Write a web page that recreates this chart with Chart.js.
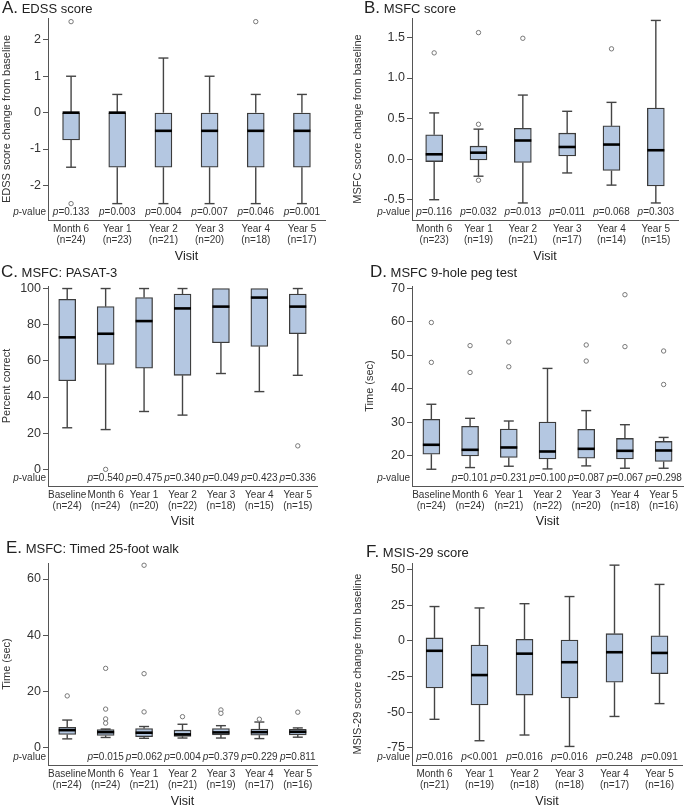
<!DOCTYPE html>
<html>
<head>
<meta charset="utf-8">
<script src="https://cdn.jsdelivr.net/npm/chart.js@4.4.0/dist/chart.umd.min.js"></script>
<style>
  body { margin: 0; background: #fff; }
  #wrap { position: relative; width: 691px; height: 807px; overflow: hidden;
          font-family: "Liberation Sans", Arial, sans-serif; color: #222; }
  .panel { position: absolute; }
  .ttl { position: absolute; font-size: 13px; white-space: nowrap; line-height: 18px; }
  .ttl b { font-weight: normal; font-size: 17px; }
</style>
</head>
<body>
<div id="wrap">
  <div class="panel" style="left:0;top:0;width:345px;height:268px"><canvas id="chartA"></canvas></div>
  <div class="panel" style="left:345px;top:0;width:346px;height:268px"><canvas id="chartB"></canvas></div>
  <div class="panel" style="left:0;top:268px;width:345px;height:272px"><canvas id="chartC"></canvas></div>
  <div class="panel" style="left:345px;top:268px;width:346px;height:272px"><canvas id="chartD"></canvas></div>
  <div class="panel" style="left:0;top:540px;width:345px;height:267px"><canvas id="chartE"></canvas></div>
  <div class="panel" style="left:345px;top:540px;width:346px;height:267px"><canvas id="chartF"></canvas></div>

  <div class="ttl" style="left:2px;top:-1px"><b>A.</b> EDSS score</div>
  <div class="ttl" style="left:364px;top:-1px"><b>B.</b> MSFC score</div>
  <div class="ttl" style="left:1px;top:263px"><b>C.</b> MSFC: PASAT-3</div>
  <div class="ttl" style="left:370px;top:263px"><b>D.</b> MSFC 9-hole peg test</div>
  <div class="ttl" style="left:6px;top:539px"><b>E.</b> MSFC: Timed 25-foot walk</div>
  <div class="ttl" style="left:366px;top:543px"><b>F.</b> MSIS-29 score</div>
</div>

<script>
// A. EDSS score (change from baseline)
const edssVisits = ['Month 6', 'Year 1', 'Year 2', 'Year 3', 'Year 4', 'Year 5'];
const edssN = [24, 23, 21, 20, 18, 17];
const edssP = ['p=0.133', 'p=0.003', 'p=0.004', 'p=0.007', 'p=0.046', 'p=0.001'];
const edssLow = [-1.5, -2.5, -2.5, -2.5, -2.5, -2.5];
const edssQ1 = [-0.75, -1.5, -1.5, -1.5, -1.5, -1.5];
const edssMed = [0, 0, -0.5, -0.5, -0.5, -0.5];
const edssQ3 = [0, 0, 0, 0, 0, 0];
const edssHigh = [1, 0.5, 1.5, 1, 0.5, 0.5];
const edssOut = [[2.5, -2.5], [], [], [], [2.5], []];
const edssTicks = [-2, -1, 0, 1, 2];

// B. MSFC score (change from baseline)
const msfcVisits = ['Month 6', 'Year 1', 'Year 2', 'Year 3', 'Year 4', 'Year 5'];
const msfcN = [23, 19, 21, 17, 14, 15];
const msfcP = ['p=0.116', 'p=0.032', 'p=0.013', 'p=0.011', 'p=0.068', 'p=0.303'];
const msfcLow = [-0.50, -0.21, -0.54, -0.17, -0.32, -0.54];
const msfcQ1 = [-0.03, -0.01, -0.04, 0.04, -0.14, -0.33];
const msfcMed = [0.06, 0.08, 0.23, 0.15, 0.18, 0.11];
const msfcQ3 = [0.30, 0.16, 0.38, 0.32, 0.41, 0.63];
const msfcHigh = [0.57, 0.37, 0.79, 0.59, 0.70, 1.71];
const msfcOut = [[1.31], [1.56, 0.43, -0.26], [1.49], [], [1.36], []];
const msfcTicks = [-0.5, 0, 0.5, 1, 1.5];

// C. PASAT-3 (percent correct)
const pasatVisits = ['Baseline', 'Month 6', 'Year 1', 'Year 2', 'Year 3', 'Year 4', 'Year 5'];
const pasatN = [24, 24, 20, 22, 18, 15, 15];
const pasatP = ['', 'p=0.540', 'p=0.475', 'p=0.340', 'p=0.049', 'p=0.423', 'p=0.336'];
const pasatLow = [23, 22, 32, 30, 53, 43, 52];
const pasatQ1 = [49, 58, 56, 52, 70, 68, 75];
const pasatMed = [73, 75, 82, 89, 90, 95, 90];
const pasatQ3 = [94, 90, 95, 97, 100, 100, 97];
const pasatHigh = [100, 100, 100, 100, 100, 100, 100];
const pasatOut = [[], [0], [], [], [], [], [13]];
const pasatTicks = [0, 20, 40, 60, 80, 100];

// D. 9-hole peg test (sec)
const pegVisits = ['Baseline', 'Month 6', 'Year 1', 'Year 2', 'Year 3', 'Year 4', 'Year 5'];
const pegN = [24, 24, 21, 22, 20, 18, 16];
const pegP = ['', 'p=0.101', 'p=0.231', 'p=0.100', 'p=0.087', 'p=0.067', 'p=0.298'];
const pegLow = [16.0, 16.5, 16.9, 16.1, 17.0, 16.3, 16.3];
const pegQ1 = [20.5, 20.0, 19.5, 19.1, 19.3, 19.1, 18.3];
const pegMed = [23.3, 21.8, 22.5, 21.3, 22.1, 21.5, 21.6];
const pegQ3 = [30.9, 28.8, 28.0, 30.1, 27.9, 25.2, 24.3];
const pegHigh = [35.4, 31.2, 30.4, 46.1, 33.5, 29.3, 25.5];
const pegOut = [[59.8, 47.9], [52.9, 44.9], [54.0, 46.6], [], [53.1, 48.3], [68.1, 52.6], [51.3, 41.3]];
const pegTicks = [20, 30, 40, 50, 60, 70];

// E. Timed 25-foot walk (sec)
const walkVisits = ['Baseline', 'Month 6', 'Year 1', 'Year 2', 'Year 3', 'Year 4', 'Year 5'];
const walkN = [24, 24, 21, 21, 19, 17, 16];
const walkP = ['', 'p=0.015', 'p=0.062', 'p=0.004', 'p=0.379', 'p=0.229', 'p=0.811'];
const walkLow = [3.1, 3.6, 3.3, 3.4, 3.4, 3.2, 3.7];
const walkQ1 = [4.7, 4.3, 3.9, 4.0, 4.5, 4.4, 4.5];
const walkMed = [6.2, 5.5, 5.3, 4.7, 5.4, 5.5, 5.6];
const walkQ3 = [7.2, 6.4, 6.8, 6.2, 6.8, 6.6, 6.5];
const walkHigh = [9.8, 6.6, 7.5, 8.3, 7.8, 9.1, 7.0];
const walkOut = [[18.4], [28.2, 13.7, 10.2, 8.7], [64.9, 26.3, 12.7], [11.0], [13.4, 12.2], [10.1], [12.6]];
const walkTicks = [0, 20, 40, 60];

// F. MSIS-29 score (change from baseline)
const msisVisits = ['Month 6', 'Year 1', 'Year 2', 'Year 3', 'Year 4', 'Year 5'];
const msisN = [21, 19, 18, 18, 17, 16];
const msisP = ['p=0.016', 'p<0.001', 'p=0.016', 'p=0.016', 'p=0.248', 'p=0.091'];
const msisLow = [-55, -70, -66, -74, -53, -44];
const msisQ1 = [-33, -45, -38, -40, -29, -23];
const msisMed = [-7, -24, -9, -15, -8, -8.5];
const msisQ3 = [2, -3, 1, 0.5, 5, 3.5];
const msisHigh = [24, 23, 26, 31, 53, 39.5];
const msisOut = [[], [], [], [], [], []];
const msisTicks = [-75, -50, -25, 0, 25, 50];

const FONT = '"Liberation Sans", Arial, sans-serif';
Chart.defaults.font.family = FONT;
Chart.defaults.color = '#333';

const BOX_W = 17;

// draws "p=0.123" with an italic p
function drawP(ctx, str, x, y, align) {
  ctx.font = 'italic 10px ' + FONT;
  const w1 = ctx.measureText(str[0]).width;
  ctx.font = '10px ' + FONT;
  const w2 = ctx.measureText(str.slice(1)).width;
  const x0 = align === 'right' ? x - w1 - w2 : x - (w1 + w2) / 2;
  ctx.textAlign = 'left';
  ctx.textBaseline = 'middle';
  ctx.font = 'italic 10px ' + FONT;
  ctx.fillText(str[0], x0, y);
  ctx.font = '10px ' + FONT;
  ctx.fillText(str.slice(1), x0 + w1, y);
}

function makePanel(id, d) {
  const [cl, ct, cw, ch] = d.box;
  const [al, at, ar, ab] = d.area;

  const boxPlugin = {
    id: 'boxExtras',
    beforeDatasetsDraw(chart) {
      const { ctx, scales: { x, y } } = chart;
      ctx.save();
      ctx.strokeStyle = '#444';
      ctx.lineWidth = 1.4;
      d.low.forEach((lo, i) => {
        const px = x.getPixelForValue(i);
        [[d.q3[i], d.high[i]], [d.q1[i], lo]].forEach(([a, b]) => {
          if (a === b) return;
          const pb = y.getPixelForValue(b);
          ctx.beginPath();
          ctx.moveTo(px, y.getPixelForValue(a));
          ctx.lineTo(px, pb);
          ctx.stroke();
          ctx.beginPath();
          ctx.moveTo(px - 5, pb);
          ctx.lineTo(px + 5, pb);
          ctx.stroke();
        });
      });
      ctx.restore();
    },
    afterDatasetsDraw(chart) {
      const { ctx, chartArea, scales: { x, y } } = chart;
      ctx.save();
      // medians
      ctx.strokeStyle = '#000';
      ctx.lineWidth = 2.6;
      d.med.forEach((m, i) => {
        const px = x.getPixelForValue(i);
        const py = y.getPixelForValue(m);
        ctx.beginPath();
        ctx.moveTo(px - BOX_W / 2, py);
        ctx.lineTo(px + BOX_W / 2, py);
        ctx.stroke();
      });
      // outliers
      ctx.strokeStyle = '#777';
      ctx.fillStyle = '#fff';
      ctx.lineWidth = 1;
      d.out.forEach((list, i) => {
        const px = x.getPixelForValue(i);
        list.forEach(v => {
          ctx.beginPath();
          ctx.arc(px, y.getPixelForValue(v), 2.2, 0, Math.PI * 2);
          ctx.fill();
          ctx.stroke();
        });
      });
      // p-values
      ctx.fillStyle = '#333';
      const py = chartArea.bottom - 8;
      drawP(ctx, 'p-value', chartArea.left - 2, py, 'right');
      d.pvals.forEach((s, i) => {
        if (s) drawP(ctx, s, x.getPixelForValue(i), py, 'center');
      });
      ctx.restore();
    }
  };

  return new Chart(document.getElementById(id), {
    type: 'bar',
    data: {
      labels: d.visits.map((v, i) => [v, '(n=' + d.n[i] + ')']),
      datasets: [{
        data: d.q1.map((q, i) => [q, d.q3[i]]),
        backgroundColor: '#b4c7e1',
        borderColor: '#3c3c3c',
        borderWidth: 1.3,
        borderSkipped: false,
        barThickness: BOX_W
      }]
    },
    options: {
      responsive: true,
      maintainAspectRatio: false,
      animation: false,
      layout: { padding: { top: at - ct, right: cl + cw - ar, left: 0, bottom: 0 } },
      plugins: { legend: { display: false }, tooltip: { enabled: false } },
      scales: {
        x: {
          grid: { display: false, drawTicks: false },
          border: { display: true, color: '#555', width: 1 },
          ticks: { font: { size: 10, lineHeight: 1.1 }, color: '#333', padding: 4, maxRotation: 0, autoSkip: false },
          title: { display: true, text: 'Visit', font: { size: 12.5 }, color: '#222', padding: { top: 0, bottom: d.xTitlePad } },
          afterFit: s => { s.height = ct + ch - ab; }
        },
        y: {
          min: d.yMin,
          max: d.yMax,
          afterBuildTicks: s => { s.ticks = d.ticks.map(v => ({ value: v })); },
          grid: { drawOnChartArea: false, drawTicks: true, tickLength: 5, color: '#555' },
          border: { display: true, color: '#555', width: 1 },
          ticks: { font: { size: 12.5 }, color: '#333', padding: 2, callback: d.fmt },
          title: { display: true, text: d.yTitle, font: { size: 11 }, color: '#333', padding: { top: d.yTitlePad, bottom: 0 } },
          afterFit: s => { s.width = al - cl; }
        }
      }
    },
    plugins: [boxPlugin]
  });
}

const plain = v => String(v);
const oneDec = v => v.toFixed(1);

makePanel('chartA', {
  visits: edssVisits, n: edssN, pvals: edssP, low: edssLow, q1: edssQ1, med: edssMed,
  q3: edssQ3, high: edssHigh, out: edssOut, ticks: edssTicks, yMin: -2.95, yMax: 2.6,
  yTitle: 'EDSS score change from baseline', fmt: plain,
  box: [0, 0, 345, 268], area: [48, 18, 325, 220], yTitlePad: 0, xTitlePad: 4
});
makePanel('chartB', {
  visits: msfcVisits, n: msfcN, pvals: msfcP, low: msfcLow, q1: msfcQ1, med: msfcMed,
  q3: msfcQ3, high: msfcHigh, out: msfcOut, ticks: msfcTicks, yMin: -0.75, yMax: 1.74,
  yTitle: 'MSFC score change from baseline', fmt: oneDec,
  box: [345, 0, 346, 268], area: [412, 18, 678, 220], yTitlePad: 6.5, xTitlePad: 4
});
makePanel('chartC', {
  visits: pasatVisits, n: pasatN, pvals: pasatP, low: pasatLow, q1: pasatQ1, med: pasatMed,
  q3: pasatQ3, high: pasatHigh, out: pasatOut, ticks: pasatTicks, yMin: -9.2, yMax: 101.4,
  yTitle: 'Percent correct', fmt: plain,
  box: [0, 268, 345, 272], area: [48, 286, 317, 486], yTitlePad: 0, xTitlePad: 11
});
makePanel('chartD', {
  visits: pegVisits, n: pegN, pvals: pegP, low: pegLow, q1: pegQ1, med: pegMed,
  q3: pegQ3, high: pegHigh, out: pegOut, ticks: pegTicks, yMin: 11, yMax: 70.7,
  yTitle: 'Time (sec)', fmt: plain,
  box: [345, 268, 346, 272], area: [412, 286, 683, 486], yTitlePad: 18, xTitlePad: 11
});
makePanel('chartE', {
  visits: walkVisits, n: walkN, pvals: walkP, low: walkLow, q1: walkQ1, med: walkMed,
  q3: walkQ3, high: walkHigh, out: walkOut, ticks: walkTicks, yMin: -6.2, yMax: 65.7,
  yTitle: 'Time (sec)', fmt: plain,
  box: [0, 540, 345, 267], area: [48, 563, 317, 765], yTitlePad: 0, xTitlePad: -2
});
makePanel('chartF', {
  visits: msisVisits, n: msisN, pvals: msisP, low: msisLow, q1: msisQ1, med: msisMed,
  q3: msisQ3, high: msisHigh, out: msisOut, ticks: msisTicks, yMin: -87, yMax: 54.5,
  yTitle: 'MSIS-29 score change from baseline', fmt: plain,
  box: [345, 540, 346, 267], area: [412, 563, 682, 765], yTitlePad: 6.5, xTitlePad: -2
});
</script>
</body>
</html>
